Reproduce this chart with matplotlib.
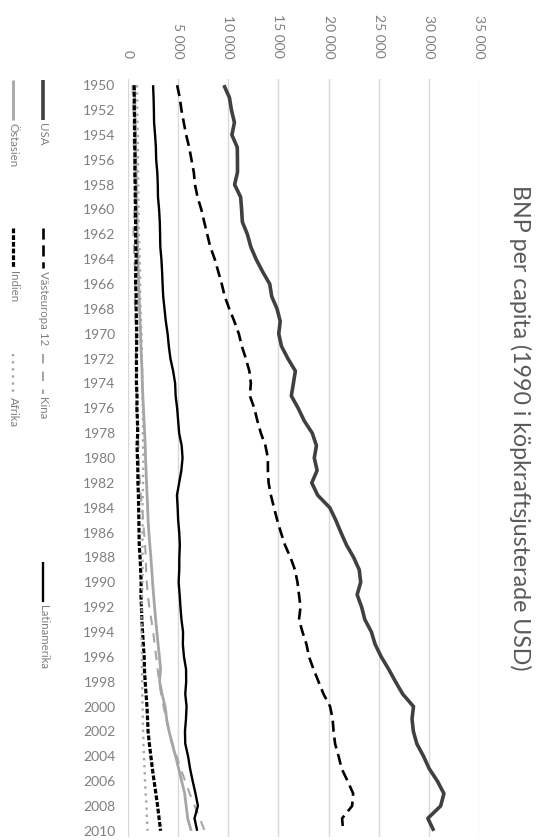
import matplotlib
matplotlib.use('Agg')
import matplotlib.pyplot as plt
from matplotlib.lines import Line2D

plt.rcParams['font.family'] = ['Lato', 'DejaVu Sans']

# --- Data (BNP per capita, 1990 köpkraftsjusterade USD) ---
years = list(range(1950, 2011))

usa = [9561, 10116, 10316, 10613, 10359, 10897, 10914, 10920, 10631, 11230,
       11328, 11402, 11905, 12242, 12773, 13419, 14134, 14330, 14863, 15179,
       15030, 15304, 15944, 16689, 16491, 16284, 16975, 17567, 18373, 18789,
       18577, 18856, 18325, 18920, 20123, 20717, 21236, 21788, 22499, 23059,
       23201, 22849, 23298, 23616, 24271, 24643, 25251, 25995, 26674, 27395,
       28467, 28321, 28456, 28803, 29467, 30033, 30850, 31500, 31178, 29899,
       30491]

vasteuropa = [4900, 5160, 5330, 5560, 5800, 6100, 6330, 6560, 6680, 6930,
              7310, 7600, 7900, 8200, 8650, 9000, 9350, 9650, 10100, 10600,
              11050, 11350, 11750, 12100, 12250, 12150, 12600, 12900, 13250, 13700,
              13950, 13950, 14020, 14250, 14560, 14880, 15250, 15650, 16200, 16650,
              16900, 17050, 17200, 17050, 17400, 17800, 18050, 18500, 19000, 19500,
              20150, 20400, 20500, 20650, 21000, 21300, 21900, 22450, 22350, 21350,
              21450]

kina = [450, 500, 540, 560, 560, 580, 620, 640, 690, 700,
        660, 560, 550, 590, 640, 710, 750, 720, 690, 740,
        780, 800, 800, 840, 830, 870, 850, 900, 980, 1040,
        1060, 1100, 1190, 1270, 1400, 1520, 1600, 1700, 1780, 1800,
        1870, 1970, 2130, 2320, 2520, 2650, 2810, 2960, 3100, 3300,
        3550, 3800, 4100, 4450, 4850, 5250, 5700, 6150, 6650, 7150,
        7650]

latinamerika = [2500, 2550, 2580, 2600, 2700, 2780, 2810, 2920, 2970, 2990,
                3100, 3170, 3200, 3220, 3330, 3400, 3450, 3510, 3640, 3770,
                3950, 4070, 4230, 4500, 4700, 4750, 4900, 5000, 5100, 5350,
                5440, 5320, 5100, 4880, 4950, 5000, 5110, 5170, 5120, 5110,
                5050, 5150, 5230, 5330, 5490, 5470, 5580, 5790, 5800, 5710,
                5840, 5780, 5680, 5710, 5990, 6190, 6450, 6730, 6970, 6630,
                6900]

ostasien = [650, 670, 690, 710, 735, 760, 780, 805, 830, 855,
            880, 905, 930, 960, 995, 1030, 1070, 1110, 1150, 1200,
            1250, 1290, 1340, 1400, 1430, 1480, 1540, 1600, 1660, 1720,
            1750, 1800, 1850, 1900, 1960, 2000, 2080, 2180, 2280, 2370,
            2450, 2550, 2650, 2760, 2880, 3000, 3130, 3250, 3150, 3400,
            3700, 3850, 4100, 4400, 4750, 5050, 5350, 5650, 5800, 5950,
            6300]

indien = [620, 620, 630, 660, 670, 675, 700, 680, 720, 720,
          750, 760, 760, 780, 815, 770, 760, 810, 810, 850,
          870, 860, 840, 850, 840, 900, 890, 940, 970, 900,
          940, 980, 990, 1040, 1060, 1080, 1100, 1120, 1200, 1260,
          1310, 1290, 1340, 1380, 1450, 1530, 1610, 1640, 1710, 1800,
          1890, 1950, 2000, 2130, 2280, 2430, 2600, 2780, 2950, 3100,
          3250]

afrika = [890, 910, 930, 940, 970, 980, 1000, 1010, 1010, 1040,
          1060, 1060, 1080, 1130, 1160, 1200, 1200, 1210, 1240, 1300,
          1340, 1370, 1380, 1410, 1440, 1440, 1490, 1490, 1480, 1510,
          1540, 1510, 1500, 1470, 1440, 1450, 1450, 1440, 1460, 1460,
          1430, 1410, 1370, 1350, 1350, 1360, 1390, 1400, 1410, 1420,
          1450, 1480, 1510, 1540, 1590, 1650, 1700, 1760, 1850, 1880,
          1950]

value_ticks = [0, 5000, 10000, 15000, 20000, 25000, 30000, 35000]
value_labels = ['0', '5 000', '10 000', '15 000', '20 000', '25 000', '30 000', '35 000']
year_ticks = years[::2]

title = 'BNP per capita (1990 i köpkraftsjusterade USD)'

# name, values, colour, width, dash pattern
series = [
    ('USA', usa, '#404040', 2.6, None),
    ('Västeuropa 12', vasteuropa, '#000000', 1.9, (0, (4.2, 2.2))),
    ('Kina', kina, '#a6a6a6', 1.5, (0, (4.5, 4))),
    ('Latinamerika', latinamerika, '#000000', 1.7, None),
    ('Östasien', ostasien, '#a6a6a6', 2.0, None),
    ('Indien', indien, '#000000', 2.3, (0, (1.5, 0.6))),
    ('Afrika', afrika, '#a6a6a6', 1.7, (0, (1, 2))),
]

W, H = 536, 840
fig = plt.figure(figsize=(W / 100, H / 100), dpi=100)


def fx(x):
    return x / W


def fy(y):
    return 1 - y / H


# plot area: value 0 at x=128, 35000 at x=479; 1949.5 at y=79, 2010.5 at y=837
ax = fig.add_axes([fx(128), fy(837), fx(479) - fx(128), fy(79) - fy(837)])

for name, vals, col, lw, ls in series:
    ax.plot(vals, years, color=col, lw=lw, linestyle=ls if ls else '-',
            solid_capstyle='butt', dash_capstyle='butt', zorder=3)

ax.set_xlim(0, 35000)
ax.set_ylim(2010.5, 1949.5)
ax.set_xticks(value_ticks)
ax.set_xticklabels(value_labels, rotation=-90, va='bottom', ha='center')
ax.xaxis.tick_top()
ax.set_yticks(year_ticks)
ax.set_yticklabels([str(y) for y in year_ticks])
ax.tick_params(axis='x', length=0, pad=15, labelsize=10, colors='#7f7f7f')
ax.tick_params(axis='y', length=0, pad=9, labelsize=10, colors='#7f7f7f')
ax.grid(axis='x', color='#d9d9d9', lw=1)
ax.set_axisbelow(True)
for s in ax.spines.values():
    s.set_visible(False)

fig.text(fx(520), fy(428), title, rotation=-90, ha='center', va='center',
         fontsize=16.7, color='#595959')

# --- Legend (rotated, drawn by hand) ---
legend_pos = {
    'USA': (43, 80), 'Västeuropa 12': (43, 228), 'Kina': (43, 354),
    'Latinamerika': (43, 562),
    'Östasien': (13, 80), 'Indien': (13, 228), 'Afrika': (13, 354),
}
for name, vals, col, lw, ls in series:
    x, y = legend_pos[name]
    fig.add_artist(Line2D([fx(x), fx(x)], [fy(y), fy(y + 40)], transform=fig.transFigure,
                          color=col, lw=lw, linestyle=ls if ls else '-',
                          solid_capstyle='butt', dash_capstyle='butt'))
    fig.text(fx(x), fy(y + 43), name, rotation=-90, ha='center', va='top',
             fontsize=8.3, color='#7f7f7f')

fig.savefig('out.png', dpi=100, facecolor='white')
